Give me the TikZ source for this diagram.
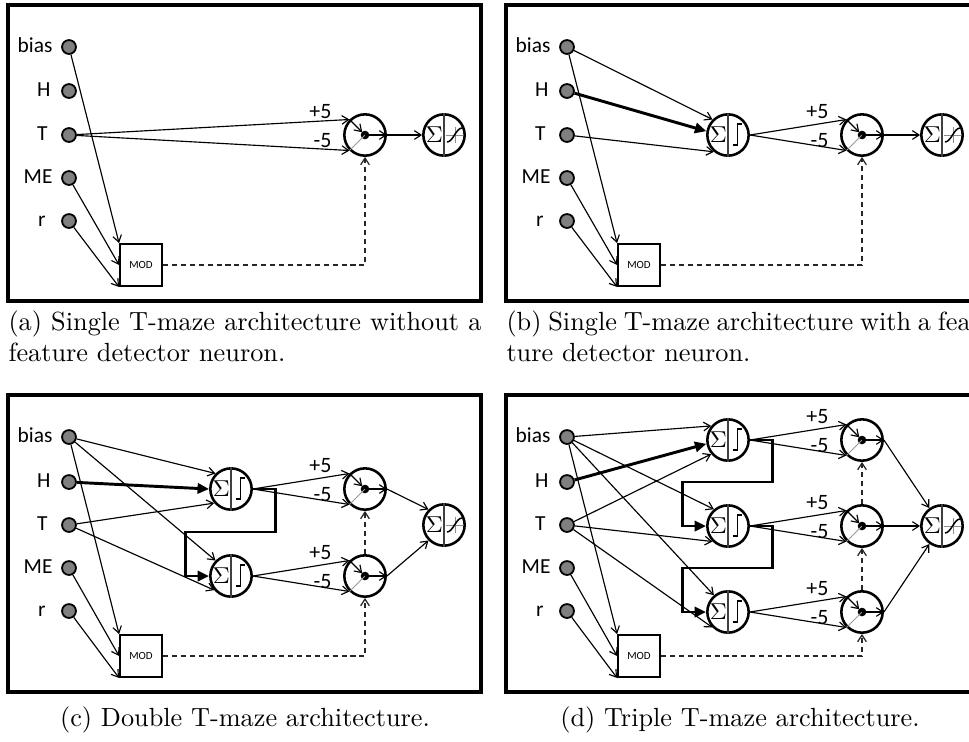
\documentclass[tikz,border=0pt]{standalone}
\usepackage{fontspec}
\newfontfamily\labelfont{Carlito}
\usetikzlibrary{arrows.meta,calc}

\definecolor{inputgray}{HTML}{808080}

\tikzset{
  panel/.style={line width=1.2pt},
  inp/.style={circle, draw, line width=0.7pt, fill=inputgray, minimum size=5.45pt, inner sep=0pt},
  neuron/.style={circle, draw, line width=1pt, minimum size=16.2pt, inner sep=0pt},
  modbox/.style={draw, line width=0.8pt, minimum size=16.4pt, inner sep=0pt,
    font=\labelfont\fontsize{4.3}{5}\selectfont},
  lbl/.style={inner sep=0pt, anchor=base east, font=\labelfont\fontsize{8.4}{10}\selectfont},
  wlbl/.style={inner sep=0pt, anchor=base east, font=\labelfont\fontsize{8.6}{10}\selectfont},
  sigmasym/.style={inner sep=0pt, font=\fontsize{9.4}{10}\selectfont},
  divider/.style={line width=0.4pt, black!75},
  conn/.style={line width=0.45pt, -{Straight Barb[length=2.6pt,width=3.4pt]}},
  strong/.style={line width=1.15pt, -{Triangle[length=4.5pt,width=4pt]}},
  modconn/.style={line width=0.5pt, black!85, dash pattern=on 2pt off 1.5pt,
    -{Straight Barb[length=2.6pt,width=3.4pt]}},
  caption/.style={inner sep=0pt, font=\fontsize{10.3}{12.2}\selectfont},
}

% column of input neurons with their labels
\newcommand\inputcol[7]{%
  \node[inp] (#1bias) at (#2,#3) {};
  \node[inp] (#1H) at (#2,#4) {};
  \node[inp] (#1T) at (#2,#5) {};
  \node[inp] (#1ME) at (#2,#6) {};
  \node[inp] (#1r) at (#2,#7) {};
  \node[lbl] (#1biasL) at ($(#1bias)+(-16,5.5)$) {bias};
  \node[lbl] (#1HL) at ($(#1H)+(-18,5.5)$) {H};
  \node[lbl] (#1TL) at ($(#1T)+(-21,5.5)$) {T};
  \node[lbl] (#1MEL) at ($(#1ME)+(-16,5.5)$) {ME};
  \node[lbl] (#1rL) at ($(#1r)+(-23,5.5)$) {r};
}

% feature detector neuron: sum and step function
\newcommand\stepneuron[2]{%
  \node[neuron] (#1) at (#2) {};
  \draw[divider] (#1.north) -- (#1.south);
  \node[sigmasym] (#1sig) at ($(#1.center)+(-9.5,0)$) {$\Sigma$};
  \draw[line width=0.6pt] ($(#1.center)+(5,10)$) -- ++(4.5,0) -- ++(0,-21) -- ++(4.5,0);
}

% output neuron: sum and sigmoid
\newcommand\outneuron[2]{%
  \node[neuron] (#1) at (#2) {};
  \draw[divider] (#1.north) -- (#1.south);
  \node[sigmasym] (#1sig) at ($(#1.center)+(-9.5,0)$) {$\Sigma$};
  \draw[line width=0.35pt, black!45] ($(#1.center)+(2,0)$) -- ++(17,0);
  \draw[line width=0.35pt, black!45] ($(#1.center)+(11,-8)$) -- ++(0,16);
  \draw[line width=0.6pt] ($(#1.center)+(3,7)$) .. controls +(6,0) and +(-6,0) .. ($(#1.center)+(18,-7)$);
}

% modulated multiplicative neuron
\newcommand\multneuron[2]{%
  \node[neuron] (#1) at (#2) {};
  \fill (#1.center) circle (4.3);
  \draw[line width=0.35pt, black!40] (#1.225) -- (#1.center);
  \draw[conn, shorten >=1.5pt] (#1.135) -- (#1.center);
  \draw[conn] (#1.center) -- (#1.east);
  \node[wlbl] (#1P) at ($(#1.center)+(-33,-17)$) {+5};
  \node[wlbl] (#1N) at ($(#1.center)+(-33,12)$) {-5};
}

\begin{document}
\begin{tikzpicture}[x=0.392pt, y=-0.392pt]
\useasboundingbox (0,0) rectangle (969,741);

% ---------------- (a) ----------------
\draw[panel] (8,5) rectangle (481,301);
\inputcol{a}{69}{47}{91}{135}{178}{221}
\node[modbox] (aMod) at (141,265) {MOD};
\multneuron{am}{365,135}
\outneuron{ao}{444,135}
\draw[conn] (abias) -- (aMod.north west);
\draw[conn] (aME) -- (aMod.west);
\draw[conn] (ar) -- (aMod.south west);
\draw[conn] (aT) -- (am.135);
\draw[conn] (aT) -- (am.225);
\draw[conn] (am.east) -- (ao.west);
\draw[modconn] (aMod.east) -| (am.south);
\node[caption, anchor=base west] (capA) at (8,330)
  {\parbox[t]{185.4pt}{(a) Single T-maze architecture without a\linebreak feature detector neuron.}};

% ---------------- (b) ----------------
\draw[panel] (979,5) -- (506,5) -- (506,301) -- (979,301);
\inputcol{b}{567}{47}{91}{135}{178}{221}
\node[modbox] (bMod) at (639,265) {MOD};
\stepneuron{bs}{728,135}
\multneuron{bm}{862,135}
\outneuron{bo}{942,135}
\draw[conn] (bbias) -- (bs.135);
\draw[strong] (bH) -- (bs.170);
\draw[conn] (bT) -- (bs.230);
\draw[conn] (bbias) -- (bMod.north west);
\draw[conn] (bME) -- (bMod.west);
\draw[conn] (br) -- (bMod.south west);
\draw[conn] (bs.east) -- (bm.135);
\draw[conn] (bs.east) -- (bm.225);
\draw[conn] (bm.east) -- (bo.west);
\draw[modconn] (bMod.east) -| (bm.south);
\node[caption, anchor=base west] (capB) at (506,330)
  {\parbox[t]{185.4pt}{(b) Single T-maze architecture with a fea-\linebreak ture detector neuron.}};

% ---------------- (c) ----------------
\draw[panel] (8,395) rectangle (481,692);
\inputcol{c}{69}{437}{482}{525}{568}{611}
\node[modbox] (cMod) at (141,656) {MOD};
\stepneuron{cs1}{231,489}
\stepneuron{cs2}{231,576}
\multneuron{cm1}{365,489}
\multneuron{cm2}{365,576}
\outneuron{co}{444,525}
\draw[conn] (cbias) -- (cs1.135);
\draw[conn] (cbias) -- (cs2.135);
\draw[conn] (cbias) -- (cMod.north west);
\draw[strong] (cH) -- (cs1.180);
\draw[conn] (cT) -- (cs1.220);
\draw[conn] (cT) -- (cs2.220);
\draw[conn] (cME) -- (cMod.west);
\draw[conn] (cr) -- (cMod.south west);
\draw[strong] (cs1.east) -- ++(23,0) -- ++(0,43) -- ++(-90,0) |- (cs2.west);
\draw[conn] (cs1.east) -- (cm1.135);
\draw[conn] (cs1.east) -- (cm1.225);
\draw[conn] (cs2.east) -- (cm2.135);
\draw[conn] (cs2.east) -- (cm2.225);
\draw[conn] (cm1.east) -- (co.135);
\draw[conn] (cm2.east) -- (co.225);
\draw[modconn] (cMod.east) -| (cm2.south);
\draw[modconn] (cm2.north) -- (cm1.south);
\node[caption, anchor=base] (capC) at (245,726) {(c) Double T-maze architecture.};

% ---------------- (d) ----------------
\draw[panel] (979,395) -- (506,395) -- (506,692) -- (979,692);
\inputcol{d}{567}{437}{482}{525}{568}{611}
\node[modbox] (dMod) at (639,656) {MOD};
\stepneuron{ds1}{728,440}
\stepneuron{ds2}{728,526}
\stepneuron{ds3}{728,612}
\multneuron{dm1}{862,440}
\multneuron{dm2}{862,526}
\multneuron{dm3}{862,612}
\outneuron{do}{942,526}
\draw[conn] (dbias) -- (ds1.140);
\draw[conn] (dbias) -- (ds2.130);
\draw[conn] (dbias) -- (ds3.130);
\draw[conn] (dbias) -- (dMod.north west);
\draw[strong] (dH) -- (ds1.190);
\draw[conn] (dT) -- (ds1.220);
\draw[conn] (dT) -- (ds2.225);
\draw[conn] (dT) -- (ds3.225);
\draw[conn] (dME) -- (dMod.west);
\draw[conn] (dr) -- (dMod.south west);
\draw[strong] (ds1.east) -- ++(23,0) -- ++(0,42) -- ++(-90,0) |- (ds2.west);
\draw[strong] (ds2.east) -- ++(23,0) -- ++(0,42) -- ++(-90,0) |- (ds3.west);
\draw[conn] (ds1.east) -- (dm1.135);
\draw[conn] (ds1.east) -- (dm1.225);
\draw[conn] (ds2.east) -- (dm2.135);
\draw[conn] (ds2.east) -- (dm2.225);
\draw[conn] (ds3.east) -- (dm3.135);
\draw[conn] (ds3.east) -- (dm3.225);
\draw[conn] (dm1.east) -- (do.125);
\draw[conn] (dm2.east) -- (do.west);
\draw[conn] (dm3.east) -- (do.235);
\draw[modconn] (dMod.east) -| (dm3.south);
\draw[modconn] (dm3.north) -- (dm2.south);
\draw[modconn] (dm2.north) -- (dm1.south);
\node[caption, anchor=base] (capD) at (740,726) {(d) Triple T-maze architecture.};
\end{tikzpicture}
\end{document}
